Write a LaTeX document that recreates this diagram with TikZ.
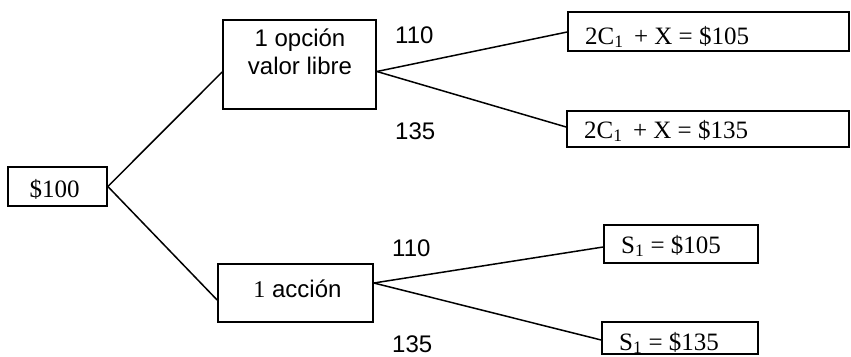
\documentclass[tikz,border=0pt]{standalone}
\usepackage{fontspec}
\setmainfont{Liberation Serif}
\setsansfont{Liberation Sans}
\begin{document}
\begin{tikzpicture}[x=1pt,y=-1pt,
  box/.style={draw,line width=1.7pt,inner sep=0pt,rectangle},
  branch/.style={line width=1.5pt},
  sanslabel/.style={font=\sffamily\fontsize{24}{28}\selectfont,inner sep=0pt},
  seriflabel/.style={font=\rmfamily\fontsize{25}{29}\selectfont,inner sep=0pt}]
\useasboundingbox (0,0) rectangle (851,356);

% boxes
\node[box,minimum width=99pt,minimum height=39pt] (root) at (57.5,186.5) {};
\node[box,minimum width=153pt,minimum height=89pt] (opt) at (299.5,64.5) {};
\node[box,minimum width=155pt,minimum height=58pt] (acc) at (295.5,293) {};
\node[box,minimum width=281pt,minimum height=39pt] (c1) at (708.5,31.5) {};
\node[box,minimum width=282pt,minimum height=36pt] (c2) at (708,129) {};
\node[box,minimum width=154pt,minimum height=38pt] (s1) at (681,244) {};
\node[box,minimum width=156pt,minimum height=32pt] (s2) at (680,338) {};

% box texts
\node[seriflabel,anchor=base] (troot) at (54.5,197) {\$100};
\node[sanslabel,anchor=base] (topt1) at (300,46) {1 opción};
\node[sanslabel,anchor=base] (topt2) at (300,74) {valor libre};
\node[sanslabel,anchor=base] (tacc) at (297.5,297) {{\rmfamily 1} acción};
\node[seriflabel,anchor=base west] (tc1) at (585,44) {2C\textsubscript{1}\, + X = \$105};
\node[seriflabel,anchor=base west] (tc2) at (584,138) {2C\textsubscript{1}\, + X = \$135};
\node[seriflabel,anchor=base west] (ts1) at (621,253) {S\textsubscript{1} = \$105};
\node[seriflabel,anchor=base west] (ts2) at (619,350) {S\textsubscript{1} = \$135};

% branch probabilities
\node[sanslabel,anchor=base west] (u1) at (395,43) {110};
\node[sanslabel,anchor=base west] (d1) at (395,139) {135};
\node[sanslabel,anchor=base west] (u2) at (392,256) {110};
\node[sanslabel,anchor=base west] (d2) at (392,352) {135};

% connectors
\draw[branch] (root.east) -- ([yshift=-7.5pt]opt.west);
\draw[branch] (root.east) -- ([yshift=-7pt]acc.west);
\draw[branch] ([yshift=-7pt]opt.east) -- ([yshift=-0.5pt]c1.west);
\draw[branch] ([yshift=-7pt]opt.east) -- ([yshift=2pt]c2.west);
\draw[branch] ([yshift=10pt]acc.east) -- ([yshift=-3pt]s1.west);
\draw[branch] ([yshift=10pt]acc.east) -- ([yshift=-2pt]s2.west);
\end{tikzpicture}
\end{document}
